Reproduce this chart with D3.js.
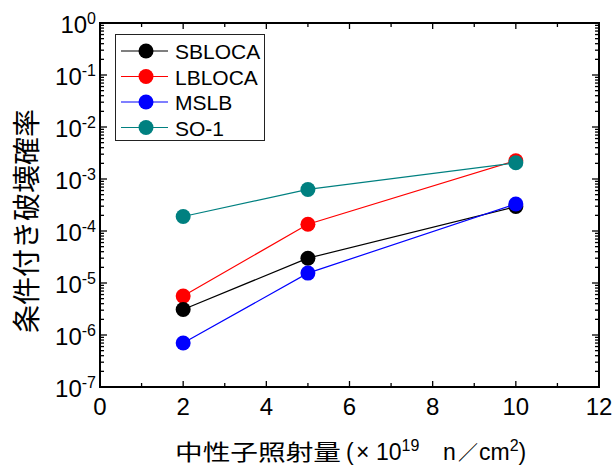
<!DOCTYPE html>
<html>
<head>
<meta charset="utf-8">
<script src="https://cdn.jsdelivr.net/npm/d3@7"></script>
<style>
  html, body { margin: 0; padding: 0; background: #fff; }
  svg { display: block; }
  .lat { font-family: "Liberation Sans", Arial, sans-serif; }
  .cjk { font-family: "Noto Sans CJK JP", sans-serif; }
</style>
</head>
<body>
<svg id="chart" width="614" height="467"></svg>
<script>
// Irradiation (x 10^19 n/cm^2)
const fluence = [2, 5, 10];

// Conditional failure probability per transient
const seriesNames = ["SBLOCA", "LBLOCA", "MSLB", "SO-1"];
const sbloca = [3.1e-6, 3.0e-5, 2.95e-4];
const lbloca = [5.6e-6, 1.35e-4, 2.25e-3];
const mslb   = [7.0e-7, 1.55e-5, 3.3e-4];
const so1    = [1.9e-4, 6.3e-4, 2.05e-3];
const seriesColors = ["#000000", "#ff0000", "#0000ff", "#008080"];
// painting order of the series (later ones sit on top)
const drawOrder = [1, 0, 2, 3];

const xTicks = [0, 2, 4, 6, 8, 10, 12];
const yExponents = [0, -1, -2, -3, -4, -5, -6, -7];

const svg = d3.select("#chart");
const plotL = 100, plotR = 599, plotT = 23, plotB = 387;

const x = d3.scaleLinear().domain([0, 12]).range([plotL, plotR]);
const y = d3.scaleLog().domain([1e-7, 1]).range([plotB, plotT]);

const series = [sbloca, lbloca, mslb, so1].map((vals, i) => ({
  name: seriesNames[i],
  color: seriesColors[i],
  points: fluence.map((f, j) => ({ x: f, y: vals[j] }))
}));

// minor tick values
const xMinor = d3.range(1, 12, 2);
const yMinor = [];
for (let e = -7; e < 0; e++) for (let m = 2; m <= 9; m++) yMinor.push(m * Math.pow(10, e));
const yMajor = yExponents.map(e => Math.pow(10, e));

const tickG = svg.append("g").attr("stroke", "#000").attr("stroke-width", 1.3);
function ticks(vals, len, side) {
  vals.forEach(v => {
    if (side === "bottom") tickG.append("line").attr("x1", x(v)).attr("x2", x(v)).attr("y1", plotB).attr("y2", plotB - len);
    if (side === "top") tickG.append("line").attr("x1", x(v)).attr("x2", x(v)).attr("y1", plotT).attr("y2", plotT + len);
    if (side === "left") tickG.append("line").attr("y1", y(v)).attr("y2", y(v)).attr("x1", plotL).attr("x2", plotL + len);
    if (side === "right") tickG.append("line").attr("y1", y(v)).attr("y2", y(v)).attr("x1", plotR).attr("x2", plotR - len);
  });
}
ticks(xTicks, 6, "bottom"); ticks(xMinor, 4, "bottom");
ticks(xTicks, 6, "top"); ticks(xMinor, 4, "top");
ticks(yMajor, 7, "left"); ticks(yMinor, 4, "left");
ticks(yMajor, 7, "right"); ticks(yMinor, 4, "right");

// frame
svg.append("rect").attr("x", plotL).attr("y", plotT).attr("width", plotR - plotL).attr("height", plotB - plotT)
  .attr("fill", "none").attr("stroke", "#000").attr("stroke-width", 2);

// x tick labels
svg.append("g").selectAll("text").data(xTicks).join("text")
  .attr("class", "lat").attr("x", d => x(d)).attr("y", plotB + 28)
  .attr("text-anchor", "middle").attr("font-size", 24).text(d => d);

// y tick labels
const yl = svg.append("g").selectAll("text").data(yExponents).join("text")
  .attr("class", "lat").attr("x", 96).attr("y", d => y(Math.pow(10, d)) + 10)
  .attr("text-anchor", "end").attr("font-size", 24);
yl.append("tspan").text("10");
yl.append("tspan").attr("font-size", 16).attr("dy", -9).text(d => String(d));

// lines and markers
const line = d3.line().x(d => x(d.x)).y(d => y(d.y));
drawOrder.map(i => series[i]).forEach(s => {
  svg.append("path").attr("d", line(s.points)).attr("fill", "none")
    .attr("stroke", s.color).attr("stroke-width", 1.2);
  svg.append("g").selectAll("circle").data(s.points).join("circle")
    .attr("cx", d => x(d.x)).attr("cy", d => y(d.y)).attr("r", 7.5).attr("fill", s.color);
});

// legend
const lg = svg.append("g");
lg.append("rect").attr("x", 115.5).attr("y", 34.5).attr("width", 149).attr("height", 106)
  .attr("fill", "#fff").attr("stroke", "#222").attr("stroke-width", 1);
series.forEach((s, i) => {
  const cy = 51 + i * 25.5;
  lg.append("line").attr("x1", 121).attr("x2", 168).attr("y1", cy).attr("y2", cy)
    .attr("stroke", s.color).attr("stroke-width", 1.2);
  lg.append("circle").attr("cx", 146).attr("cy", cy).attr("r", 7.5).attr("fill", s.color);
  lg.append("text").attr("class", "lat").attr("x", 175).attr("y", cy + 8)
    .attr("font-size", 21).text(s.name);
});

// y axis title
svg.append("text").attr("class", "cjk")
  .attr("transform", "translate(25,221) rotate(-90)")
  .attr("text-anchor", "middle").attr("dominant-baseline", "central")
  .attr("font-size", 28).text("条件付き破壊確率");

// x axis title
const xt = svg.append("text").attr("y", 460);
xt.append("tspan").attr("class", "cjk").attr("x", 175).attr("font-size", 22)
  .attr("textLength", 166).attr("lengthAdjust", "spacingAndGlyphs").text("中性子照射量");
xt.append("tspan").attr("class", "lat").attr("x", 346).attr("font-size", 23).text("(");
xt.append("tspan").attr("class", "lat").attr("x", 356).attr("font-size", 23).text("×");
xt.append("tspan").attr("class", "lat").attr("x", 376).attr("font-size", 23).text("10");
xt.append("tspan").attr("class", "lat").attr("font-size", 16).attr("dy", -9).text("19");
xt.append("tspan").attr("class", "lat").attr("x", 443).attr("dy", 9).attr("font-size", 23).text("n");
xt.append("tspan").attr("class", "cjk").attr("x", 458).attr("font-size", 20).text("／");
xt.append("tspan").attr("class", "lat").attr("x", 479).attr("font-size", 23).text("cm");
xt.append("tspan").attr("class", "lat").attr("font-size", 16).attr("dy", -9).text("2");
xt.append("tspan").attr("class", "lat").attr("dy", 9).attr("font-size", 23).text(")");
</script>
</body>
</html>
